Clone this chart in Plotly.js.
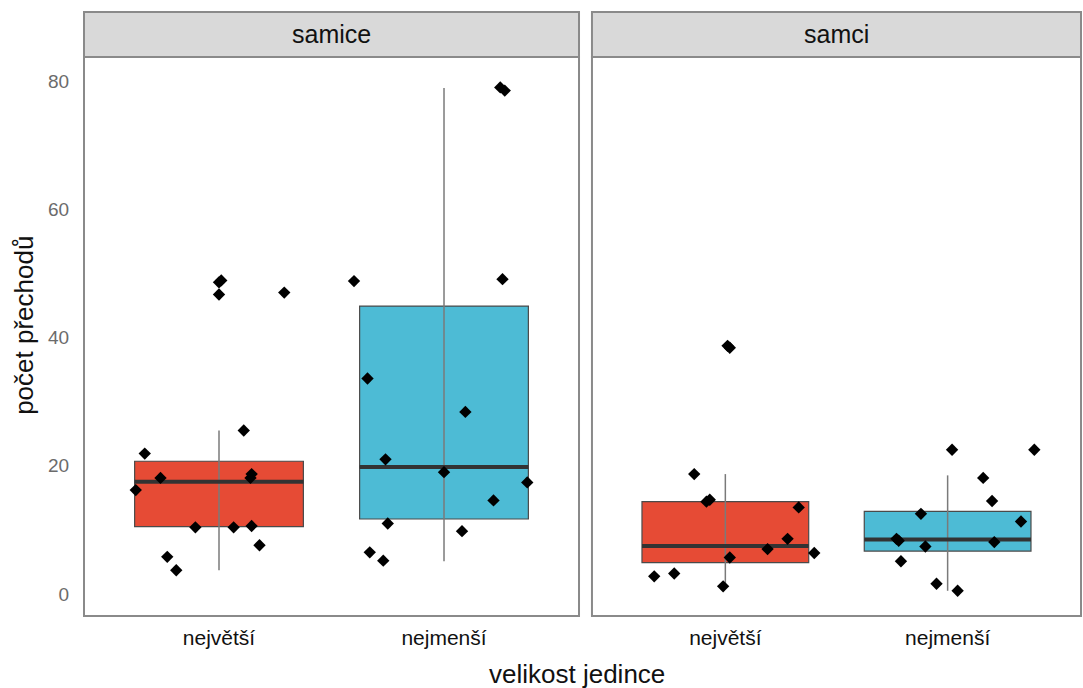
<!DOCTYPE html>
<html>
<head>
<meta charset="utf-8">
<script src="https://cdn.plot.ly/plotly-3.0.1.min.js"></script>
<style>html,body{margin:0;padding:0;background:#fff}#chart{width:1083px;height:688px}</style>
</head>
<body>
<div id="chart"></div>
<script>
// ---- data ----
var panels = ["samice", "samci"];
var categories = ["největší", "nejmenší"];
var fillColors = ["#E64B35", "#4DBBD5"];

// box statistics per panel: [největší, nejmenší]
var samiceQ1 = [10.5, 11.7];
var samiceMedian = [17.5, 19.8];
var samiceQ3 = [20.7, 44.9];
var samiceLow = [3.7, 5.1];
var samiceHigh = [25.5, 78.9];

var samciQ1 = [4.9, 6.7];
var samciMedian = [7.5, 8.5];
var samciQ3 = [14.4, 12.9];
var samciLow = [1.2, 0.5];
var samciHigh = [18.7, 18.5];

// jittered points: category index (1/2) + horizontal jitter, and value
var samiceNejvetsiJitter = [0.01, 0.0, 0.0, 0.29, 0.11, -0.33, -0.26, -0.37, 0.145, 0.14, -0.105, 0.065, 0.145, 0.18, -0.23, -0.19];
var samiceNejvetsiValues = [48.9, 48.6, 46.7, 47.0, 25.5, 21.9, 18.1, 16.2, 18.7, 18.1, 10.4, 10.4, 10.6, 7.6, 5.8, 3.7];
var samiceNejmensiJitter = [0.25, 0.27, -0.40, 0.26, -0.34, 0.095, -0.26, 0.0, 0.37, 0.22, -0.25, 0.08, -0.33, -0.27];
var samiceNejmensiValues = [79.0, 78.5, 48.8, 49.1, 33.6, 28.4, 21.0, 19.0, 17.4, 14.6, 11.0, 9.8, 6.5, 5.2];
var samciNejvetsiJitter = [0.01, 0.02, -0.14, -0.085, -0.07, 0.33, 0.28, 0.19, 0.40, 0.02, -0.32, -0.23, -0.01];
var samciNejvetsiValues = [38.7, 38.4, 18.7, 14.4, 14.7, 13.5, 8.6, 7.0, 6.4, 5.7, 2.75, 3.2, 1.2];
var samciNejmensiJitter = [0.02, 0.39, 0.16, 0.20, -0.12, 0.33, -0.23, -0.22, -0.10, 0.21, -0.21, -0.05, 0.045];
var samciNejmensiValues = [22.5, 22.5, 18.1, 14.5, 12.5, 11.3, 8.6, 8.3, 7.4, 8.1, 5.1, 1.6, 0.5];

// ---- build ----
var FONT = "Liberation Sans, Arial, sans-serif";
var boxWidth = 0.75;
var traces = [];
function addPanel(xa, q1, med, q3, lo, hi, jit, vals) {
  for (var i = 0; i < 2; i++) {
    var xc = i + 1;
    traces.push({type: "scatter", mode: "lines", xaxis: xa, yaxis: "y",
      x: [xc, xc], y: [lo[i], hi[i]], line: {color: "#7a7a7a", width: 1.5},
      hoverinfo: "skip", showlegend: false});
    traces.push({type: "box", xaxis: xa, yaxis: "y", x: [xc],
      q1: [q1[i]], median: [med[i]], q3: [q3[i]],
      lowerfence: [q1[i]], upperfence: [q3[i]],
      width: boxWidth, boxpoints: false, fillcolor: fillColors[i],
      line: {color: "#4a4a4a", width: 1.2}, showlegend: false, name: categories[i]});
    traces.push({type: "scatter", mode: "lines", xaxis: xa, yaxis: "y",
      x: [xc - boxWidth / 2, xc + boxWidth / 2], y: [med[i], med[i]],
      line: {color: "#333333", width: 4}, hoverinfo: "skip", showlegend: false});
  }
  for (var g = 0; g < 2; g++) {
    var xs = jit[g].map(function (d) { return g + 1 + d; });
    traces.push({type: "scatter", mode: "markers", xaxis: xa, yaxis: "y",
      x: xs, y: vals[g], marker: {symbol: "diamond", size: 9.5, color: "#000"},
      showlegend: false});
  }
}
addPanel("x", samiceQ1, samiceMedian, samiceQ3, samiceLow, samiceHigh,
  [samiceNejvetsiJitter, samiceNejmensiJitter], [samiceNejvetsiValues, samiceNejmensiValues]);
addPanel("x2", samciQ1, samciMedian, samciQ3, samciLow, samciHigh,
  [samciNejvetsiJitter, samciNejmensiJitter], [samciNejvetsiValues, samciNejmensiValues]);

var panelTop = 0.9255;
var d1 = [0, 0.4965], d2 = [0.5095, 1];
function xaxisDef(dom) {
  return {domain: dom, range: [0.4, 2.6], anchor: "y", tickvals: [1, 2], ticktext: categories,
    showgrid: false, zeroline: false, showline: false, ticks: "outside", ticklen: 3,
    tickcolor: "rgba(0,0,0,0)", tickfont: {size: 21, color: "#111", family: FONT},
    fixedrange: true};
}
var shapes = [];
var annotations = [];
[d1, d2].forEach(function (d, k) {
  shapes.push({type: "rect", xref: "paper", yref: "paper", x0: d[0], x1: d[1], y0: 0, y1: panelTop,
    line: {color: "#8a8a8a", width: 2}, fillcolor: "rgba(0,0,0,0)", layer: "above"});
  shapes.push({type: "rect", xref: "paper", yref: "paper", x0: d[0], x1: d[1], y0: panelTop, y1: 1,
    line: {color: "#8a8a8a", width: 2}, fillcolor: "#d9d9d9"});
  annotations.push({xref: "paper", yref: "paper", x: (d[0] + d[1]) / 2, y: (panelTop + 1) / 2,
    text: panels[k], showarrow: false, xanchor: "center", yanchor: "middle",
    font: {size: 25, color: "#111", family: FONT}});
});
annotations.push({xref: "paper", yref: "paper", x: 0.494, y: -0.096, yanchor: "middle", xanchor: "center",
  text: "velikost jedince", showarrow: false,
  font: {size: 26, color: "#111", family: FONT}});
annotations.push({xref: "paper", yref: "paper", x: -0.0602, y: 0.482, yanchor: "middle", xanchor: "center",
  text: "počet přechodů", showarrow: false, textangle: -90,
  font: {size: 26, color: "#111", family: FONT}});

var layout = {
  width: 1083, height: 688,
  margin: {l: 84, r: 2, t: 12, b: 72},
  paper_bgcolor: "#fff", plot_bgcolor: "#fff",
  showlegend: false,
  xaxis: xaxisDef(d1),
  xaxis2: xaxisDef(d2),
  yaxis: {domain: [0, panelTop], range: [-3.43, 83.74], tickvals: [0, 20, 40, 60, 80],
    showgrid: false, zeroline: false, showline: false, ticks: "outside", ticklen: 10,
    tickcolor: "rgba(0,0,0,0)", tickfont: {size: 19, color: "#6b6b6b", family: FONT},
    fixedrange: true},
  shapes: shapes,
  annotations: annotations
};
Plotly.newPlot("chart", traces, layout, {displayModeBar: false, staticPlot: true});
</script>
</body>
</html>
